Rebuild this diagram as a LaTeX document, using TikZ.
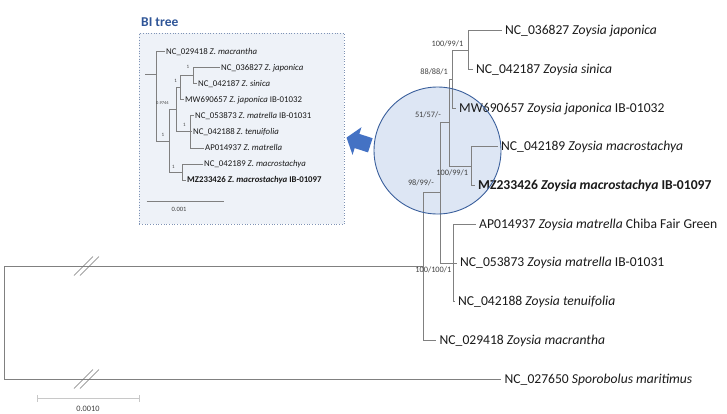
\documentclass[tikz,border=0pt]{standalone}
\usepackage{fontspec}
\setmainfont{Carlito}
\definecolor{brgrey}{HTML}{808080}
\definecolor{leafc}{HTML}{1A1A1A}
\definecolor{bsc}{HTML}{404040}
\definecolor{titlec}{HTML}{2F5597}
\definecolor{boxc}{HTML}{7F93B5}
\definecolor{boxfill}{HTML}{EEF2F8}
\definecolor{circfill}{HTML}{DDE6F4}
\definecolor{circline}{HTML}{3A5F9C}
\definecolor{arrowc}{HTML}{4472C4}
\definecolor{sclc}{HTML}{C8C8C8}
\begin{document}
\begin{tikzpicture}[x=1pt,y=-1pt,
  br/.style={draw=brgrey, line width=0.8pt},
  ibr/.style={draw=brgrey, line width=0.6pt},
  brk/.style={draw=brgrey!90!black, line width=0.6pt},
  leaf/.style={anchor=west, inner xsep=3.5pt, inner ysep=0pt, text height=10pt, text depth=2pt,
    font=\fontsize{13.6}{15}\selectfont, text=leafc},
  ileaf/.style={anchor=west, inner xsep=1.5pt, inner ysep=0pt, text height=6.4pt, text depth=1.4pt,
    font=\fontsize{8.8}{9.5}\selectfont, text=leafc},
  bs/.style={anchor=east, inner sep=0pt, font=\fontsize{8.3}{9}\selectfont, text=bsc},
  ibs/.style={inner sep=0pt, font=\fontsize{5}{6}\selectfont, text=bsc},
]
\useasboundingbox (0,0) rectangle (727,413);

% ---------- inset (BI tree) ----------
\node[draw=boxc, dotted, line width=0.7pt, fill=boxfill, minimum width=205pt, minimum height=191pt,
      anchor=north west, inner sep=0pt] (box) at (139,33) {};
\node[anchor=west, inner sep=0pt, font=\bfseries\fontsize{13.5}{15}\selectfont, text=titlec] (title) at (141,22) {BI tree};

\node[ileaf] (i1) at (164.5,51.5)  {NC\_029418 \textit{Z. macrantha}};
\node[ileaf] (i2) at (219.5,67.55) {NC\_036827 \textit{Z. japonica}};
\node[ileaf] (i3) at (196.5,83.6)  {NC\_042187 \textit{Z. sinica}};
\node[ileaf] (i4) at (183.5,99.65) {MW690657 \textit{Z. japonica} IB-01032};
\node[ileaf] (i5) at (193.5,115.7) {NC\_053873 \textit{Z. matrella} IB-01031};
\node[ileaf] (i6) at (191.5,131.75){NC\_042188 \textit{Z. tenuifolia}};
\node[ileaf] (i7) at (203.5,147.8) {AP014937 \textit{Z. matrella}};
\node[ileaf] (i8) at (202.5,163.85){NC\_042189 \textit{Z. macrostachya}};
\node[ileaf] (i9) at (185.5,179.9) {\textbf{MZ233426 \textit{Z. macrostachya} IB-01097}};

\coordinate (ia) at (193.3,75.575);
\coordinate (ib) at (180.7,87.6);
\coordinate (ic) at (176,109.7);
\coordinate (id) at (182,171.9);
\coordinate (ie) at (190,131.75);
\coordinate (ix) at (169.3,140.8);
\coordinate (ir) at (156,74.5);
\coordinate (irs) at (145,74.5);

\draw[ibr] (ia) |- (i2.west);
\draw[ibr] (ia) |- (i3.west);
\draw[ibr] (ib) |- (ia);
\draw[ibr] (ib) |- (i4.west);
\draw[ibr] (ie) |- (i5.west);
\draw[ibr] (ie) -- (i6.west);
\draw[ibr] (ie) |- (i7.west);
\draw[ibr] (ic) |- (ib);
\draw[ibr] (ic) |- (ie);
\draw[ibr] (id) |- (i8.west);
\draw[ibr] (id) |- (i9.west);
\draw[ibr] (ix) |- (ic);
\draw[ibr] (ix) |- (id);
\draw[ibr] (ir) |- (i1.west);
\draw[ibr] (ir) |- (ix);
\draw[ibr] (irs) -- (ir);

\node[ibs] (la) at (188,66.8) {1};
\node[ibs] (lb) at (175.7,80.7) {1};
\node[ibs, font=\fontsize{4.5}{5}\selectfont] (lc) at (162.5,103) {0.9744};
\node[ibs] (le) at (184.5,124.5) {1};
\node[ibs] (lx) at (163,135) {1};
\node[ibs] (ld) at (173.3,166.7) {1};

\coordinate (isl) at (146.7,201.7);
\coordinate (isr) at (224.3,201.7);
\draw[ibr] (isl) -- (isr);
\node[ibs, font=\fontsize{6.5}{7}\selectfont] (isc) at (179,209.5) {0.001};

% ---------- circle fill ----------
\fill[circfill] (437.5,150.5) circle[radius=63.5];

% ---------- main tree ----------
\node[leaf] (t1)  at (501.5,30.7)  {NC\_036827 \textit{Zoysia japonica}};
\node[leaf] (t2)  at (472.5,69.4)  {NC\_042187 \textit{Zoysia sinica}};
\node[leaf] (t3)  at (455.5,108.1) {MW690657 \textit{Zoysia japonica} IB-01032};
\node[leaf] (t4)  at (497.5,146.8) {NC\_042189 \textit{Zoysia macrostachya}};
\node[leaf] (t5)  at (474.5,185.5) {\textbf{MZ233426 \textit{Zoysia macrostachya} IB-01097}};
\node[leaf] (t6)  at (475.5,224.2) {AP014937 \textit{Zoysia matrella} Chiba Fair Green};
\node[leaf] (t7)  at (456.5,262.9) {NC\_053873 \textit{Zoysia matrella} IB-01031};
\node[leaf] (t8)  at (454.5,301.6) {NC\_042188 \textit{Zoysia tenuifolia}};
\node[leaf] (t9)  at (436,340.3)   {NC\_029418 \textit{Zoysia macrantha}};
\node[leaf] (t10) at (501,379)     {NC\_027650 \textit{Sporobolus maritimus}};

\coordinate (A) at (468,50.05);
\coordinate (B) at (452,79.075);
\coordinate (D) at (471,166.15);
\coordinate (C) at (449,122.6);
\coordinate (E) at (453,262.9);
\coordinate (F) at (440,192.75);
\coordinate (G) at (423,266.5);
\coordinate (R) at (4,322.75);

\draw[br] (A) |- (t1.west);
\draw[br] (A) |- (t2.west);
\draw[br] (B) |- (A);
\draw[br] (B) |- (t3.west);
\draw[br] (D) |- (t4.west);
\draw[br] (D) |- (t5.west);
\draw[br] (C) |- (B);
\draw[br] (C) |- (D);
\draw[br] (E) |- (t6.west);
\draw[br] (E) -- (t7.west);
\draw[br] (E) |- (t8.west);
\draw[br] (F) |- (C);
\draw[br] (F) |- (E);
\draw[br] (G) |- (F);
\draw[br] (G) |- (t9.west);
\draw[br] (R) |- (G);
\draw[br] (R) |- (t10.west);

% break marks
\draw[brk] (74,275.5) -- (93,256.5);
\draw[brk] (80,275.5) -- (99,256.5);
\draw[brk] (74,388.5) -- (93,369.5);
\draw[brk] (80,388.5) -- (99,369.5);

\node[bs] (bA) at (463.5,43.3)  {100/99/1};
\node[bs] (bB) at (448,72)      {88/88/1};
\node[bs] (bC) at (441,115)     {51/57/-};
\node[bs] (bD) at (468.3,172.7) {100/99/1};
\node[bs] (bF) at (434,182.5)   {98/99/-};
\node[bs] (bG) at (451.5,269.8) {100/100/1};

% ---------- circle border ----------
\draw[circline, line width=0.9pt] (437.5,150.5) circle[radius=63.5];

% ---------- arrow ----------
\fill[arrowc] (346.5,137.6) -- (361.5,127.2) -- (359.3,133.9) -- (372.6,138.2)
  -- (368,152.4) -- (354.7,148.1) -- (352.5,154.8) -- cycle;

% ---------- main scale bar ----------
\coordinate (sl) at (37,398);
\coordinate (sr) at (139,398);
\draw[sclc, line width=0.8pt] (sl) -- (sr);
\draw[sclc, line width=0.8pt] ([yshift=-3.5pt]sl) -- ([yshift=3.5pt]sl);
\draw[sclc, line width=0.8pt] ([yshift=-3.5pt]sr) -- ([yshift=3.5pt]sr);
\node[anchor=base, inner sep=0pt, font=\fontsize{8.3}{9}\selectfont, text=bsc] (sc) at (88,411.3) {0.0010};
\end{tikzpicture}
\end{document}
